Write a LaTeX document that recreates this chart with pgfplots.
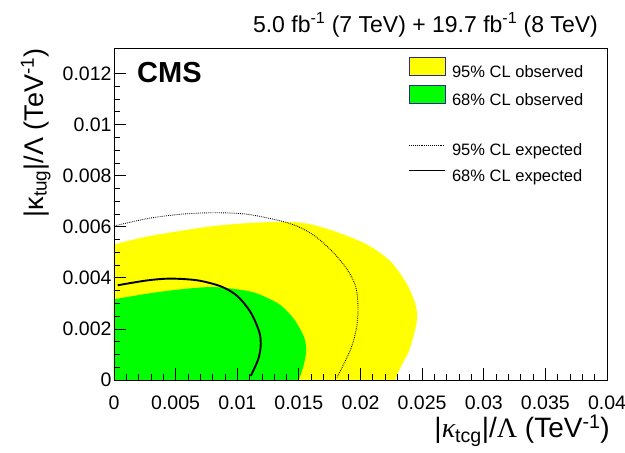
\documentclass[border=0pt]{standalone}
\usepackage{fontspec}
\setmainfont{Liberation Sans}
\newfontfamily\seriffam{Liberation Serif}
\usepackage{pgfplots}
\pgfplotsset{compat=1.18}
\definecolor{rootyellow}{RGB}{255,255,0}
\definecolor{rootgreen}{RGB}{0,255,0}
\definecolor{rootblue}{RGB}{40,40,150}
\pgfplotsset{
    boxlegend/.style={legend image code/.code={%
        \filldraw[##1, draw=rootblue, line width=0.7pt] (0pt,-5pt) rectangle (36pt,13pt);}},
    linelegend/.style={legend image code/.code={%
        \draw[##1] (0pt,3.4pt) -- (36pt,3.4pt);}},
}

\begin{document}
\begin{tikzpicture}
\useasboundingbox (0,0) rectangle (625pt,453pt);
\begin{axis}[
    at={(114pt,73pt)}, anchor=south west,
    scale only axis, width=493pt, height=332pt,
    xmin=0, xmax=0.04, ymin=0, ymax=0.013,
    scaled ticks=false,
    axis on top,
    axis line style={line width=0.9pt},
    tick pos=left, tick align=inside,
    major tick length=12pt, minor tick length=6pt,
    every tick/.style={black, line width=0.8pt},
    xtick={0,0.005,0.01,0.015,0.02,0.025,0.03,0.035,0.04},
    xticklabels={0,0.005,0.01,0.015,0.02,0.025,0.03,0.035,0.04},
    ytick={0,0.002,0.004,0.006,0.008,0.01,0.012},
    yticklabels={0,0.002,0.004,0.006,0.008,0.01,0.012},
    minor x tick num=4, minor y tick num=3,
    ticklabel style={font=\fontsize{19.5}{20}\selectfont},
    xticklabel style={yshift=-12pt},
    yticklabel style={xshift=1pt},
    legend cell align=left,
    legend style={at={(rel axis cs:0.5963,0.973)}, anchor=north west,
        draw=none, fill=none, inner sep=0pt,
        font=\fontsize{16.5}{18}\selectfont, row sep=3.7pt,
        nodes={inner sep=0pt, text height=18pt, text depth=3.5pt},
        /tikz/every odd column/.append style={column sep=6pt}},
]

% 95% CL observed
\addplot[draw=none, fill=rootyellow, smooth, boxlegend]
    coordinates {
    (0,0.00531) (0.0027,0.00562) (0.0054,0.00584) (0.0081,0.00603)
    (0.0108,0.00614) (0.0135,0.00619) (0.0155,0.00614) (0.0178,0.00584)
    (0.0205,0.00531) (0.0224,0.00466) (0.0237,0.00381) (0.0244,0.00305)
    (0.0246,0.00250) (0.0244,0.00190) (0.0239,0.00110) (0.0233,0.00055)
    (0.0228,0)
} \closedcycle;
\addlegendentry{95\% CL observed}

% 68% CL observed
\addplot[draw=none, fill=rootgreen, smooth, boxlegend]
    coordinates {
    (0,0.00316) (0.0027,0.00338) (0.0054,0.00355) (0.0081,0.00364)
    (0.0108,0.00349) (0.0122,0.00327) (0.0136,0.00290) (0.0147,0.00232)
    (0.0154,0.00170) (0.0156,0.00120) (0.0154,0.00060) (0.0150,0)
} \closedcycle;
\addlegendentry{68\% CL observed}

\addlegendimage{empty legend}
\addlegendentry{~}

% 95% CL expected
\addplot[black, line width=0.9pt, dash pattern=on 0.8pt off 1.1pt, smooth, linelegend]
    coordinates {
    (0,0.00603) (0.0027,0.00632) (0.0054,0.00649) (0.0081,0.00655)
    (0.0108,0.00649) (0.0136,0.00622) (0.0151,0.00597) (0.0164,0.00560)
    (0.0178,0.00499) (0.0189,0.00434) (0.0196,0.00368) (0.0198,0.00290)
    (0.0197,0.00211) (0.0193,0.00133) (0.0187,0.00068) (0.0181,0.0001)
};
\addlegendentry{95\% CL expected}

% 68% CL expected
\addplot[black, line width=1.9pt, smooth, linelegend]
    coordinates {
    (0.0003,0.00371) (0.0027,0.00390) (0.0046,0.00397) (0.0068,0.00390)
    (0.0087,0.00366) (0.0100,0.00329) (0.0111,0.00264) (0.0118,0.00186)
    (0.0119,0.00133) (0.0117,0.00081) (0.0111,0.00016)
};
\addlegendentry{68\% CL expected}
\end{axis}

\node[anchor=base west, inner sep=0pt, font=\fontsize{29}{30}\selectfont\bfseries] at (137pt,370pt) {CMS};
\node[anchor=base east, inner sep=0pt, font=\fontsize{23}{24}\selectfont] at (598pt,420pt)
    {5.0 fb\textsuperscript{-1} (7 TeV) + 19.7 fb\textsuperscript{-1} (8 TeV)};
\node[anchor=base east, inner sep=0pt, font=\fontsize{28}{30}\selectfont] at (610pt,15pt)
    {|{\seriffam\itshape κ}\textsubscript{tcg}|/{\seriffam Λ} (TeV\textsuperscript{-1})};
\node[anchor=base east, rotate=90, inner sep=0pt, font=\fontsize{27}{29}\selectfont] at (43pt,405pt)
    {|κ\textsubscript{tug}|/Λ (TeV\textsuperscript{-1})};
\end{tikzpicture}
\end{document}
